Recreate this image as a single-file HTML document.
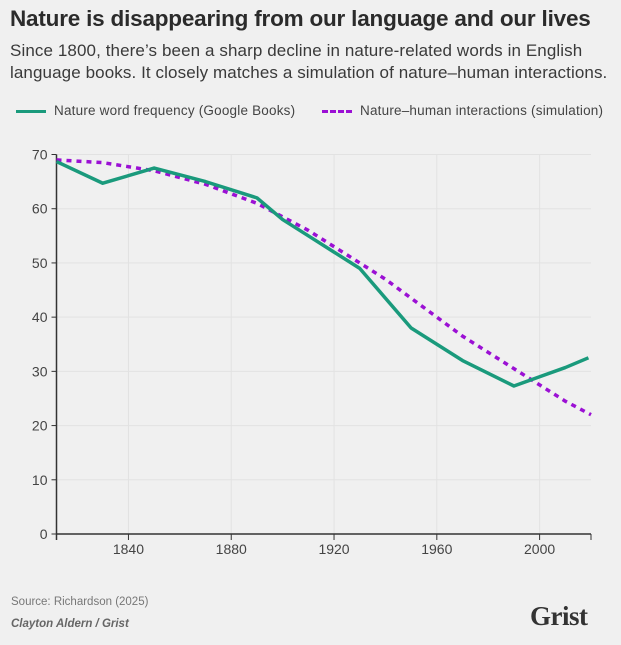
<!DOCTYPE html>
<html><head><meta charset="utf-8">
<style>
body{margin:0;background:#f0f0f0;width:621px;height:645px;overflow:hidden;font-family:"Liberation Sans",sans-serif;color:#333}
#t{position:absolute;left:10px;top:6px;font-size:22.5px;font-weight:bold;color:#2b2b2b;letter-spacing:-0.2px}
#s{position:absolute;left:10px;top:40px;font-size:17px;line-height:22px;color:#3a3a3a;letter-spacing:0.1px}
.lg{position:absolute;top:103px;font-size:13.5px;color:#444;letter-spacing:0.2px}
#src{position:absolute;left:11px;top:596px;font-size:11.5px;color:#777}
#by{position:absolute;left:11px;top:618px;font-size:11.5px;color:#666;font-style:italic;font-weight:bold}
#logo{position:absolute;left:530px;top:601px;font-family:"Liberation Serif",serif;font-size:27px;font-weight:bold;color:#333;letter-spacing:-0.5px}
</style></head><body>
<div id="t">Nature is disappearing from our language and our lives</div>
<div id="s">Since 1800, there’s been a sharp decline in nature-related words in English<br>language books. It closely matches a simulation of nature–human interactions.</div>
<div class="lg" style="left:16px"><span style="display:inline-block;width:30px;height:3px;background:#1a9a7c;vertical-align:middle;margin-right:8px"></span>Nature word frequency (Google Books)</div>
<div class="lg" style="left:322px"><span style="display:inline-block;width:30px;height:0;border-top:3px dashed #9b10d4;vertical-align:middle;margin-right:8px"></span>Nature–human interactions (simulation)</div>
<svg id="c" width="621" height="645" style="position:absolute;left:0;top:0"></svg>
<div id="src">Source: Richardson (2025)</div>
<div id="by">Clayton Aldern / Grist</div>
<div id="logo">Grist</div>
<script>
const yTicks=[0,10,20,30,40,50,60,70];
const xTicks=[1840,1880,1920,1960,2000];
const bookYears=[1812,1830,1850,1870,1890,1900,1910,1920,1930,1950,1960,1970,1990,2000,2010,2019];
const bookValues=[68.7,64.7,67.5,65,62,58,55,52,49,38,35,32,27.3,29,30.7,32.5];
const simYears=[1812,1830,1850,1870,1890,1900,1910,1920,1930,1940,1950,1960,1970,1980,1990,2000,2010,2020];
const simValues=[69,68.5,67,64.5,61,58.5,56,53,50,47,43.5,40,36.5,33.5,30.5,27.5,24.5,22];
const NS='http://www.w3.org/2000/svg';
const svg=document.getElementById('c');
const X0=56.5,X1=591,Y0=534,Y1=154.5,XMIN=1812,XMAX=2020;
const x=v=>X0+(v-XMIN)/(XMAX-XMIN)*(X1-X0);
const y=v=>Y0-(v/70)*(Y0-Y1);
function mk(tag,attrs){const e=document.createElementNS(NS,tag);for(const k in attrs)e.setAttribute(k,attrs[k]);svg.appendChild(e);return e;}
yTicks.forEach(t=>{
 const g=mk('line',{x1:X0,x2:X1,y1:y(t),y2:y(t),stroke:'#e2e2e2','stroke-width':1});
 
 
 mk('line',{x1:X0-5,x2:X0,y1:y(t),y2:y(t),stroke:'#333'});
 const l=mk('text',{x:X0-9,y:y(t)+5,'text-anchor':'end','font-size':14,fill:'#444','font-family':'Liberation Sans'});
 l.textContent=t;
 
 
});
xTicks.forEach(t=>{
 const g=mk('line',{x1:x(t),x2:x(t),y1:Y1,y2:Y0,stroke:'#e2e2e2'});
 
 
 mk('line',{x1:x(t),x2:x(t),y1:Y0,y2:Y0+6,stroke:'#333'});
 const l=mk('text',{x:x(t),y:Y0+20,'text-anchor':'middle','font-size':14,fill:'#444','font-family':'Liberation Sans'});
 l.textContent=t;
 
 
});
mk('line',{x1:X1,x2:X1,y1:Y0,y2:Y0+6,stroke:'#333'});
const ya=mk('line',{x1:X0,x2:X0,y1:Y1,y2:Y0+6,stroke:'#333','stroke-width':1.5});


const xa=mk('line',{x1:X0,x2:X1,y1:Y0,y2:Y0,stroke:'#333','stroke-width':1.5});


const sp=mk('path',{d:simYears.map((v,i)=>(i?'L':'M')+x(v)+','+y(simValues[i])).join(''),fill:'none',stroke:'#9b10d4','stroke-width':3.5,'stroke-dasharray':'5 5'});


const bp=mk('path',{d:bookYears.map((v,i)=>(i?'L':'M')+x(v)+','+y(bookValues[i])).join(''),fill:'none',stroke:'#1a9a7c','stroke-width':3.5,'stroke-linejoin':'round'});


</script>
</body></html>
